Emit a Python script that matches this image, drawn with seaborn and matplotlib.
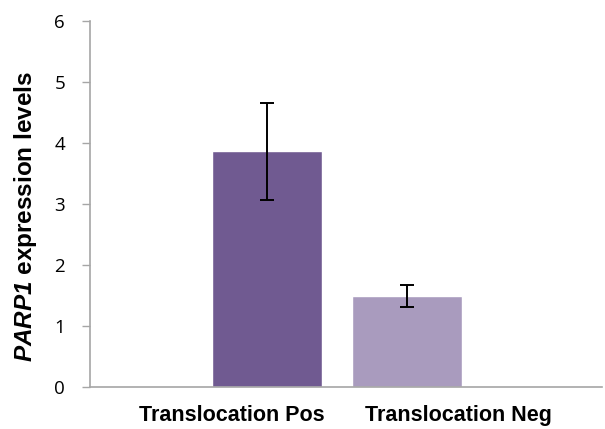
import matplotlib
matplotlib.use("Agg")
import matplotlib.pyplot as plt
import seaborn as sns
import pandas as pd

# Mean PARP1 expression by translocation status, with error
groups = ["Translocation Pos", "Translocation Neg"]
means = [3.86, 1.49]
errors = [0.79, 0.18]
colors = ["#705a91", "#a99bbe"]
yticks = [0, 1, 2, 3, 4, 5, 6]

sns.set_style("white")
plt.rcParams["font.family"] = ["Liberation Sans", "DejaVu Sans"]
plt.rcParams["text.color"] = "black"
plt.rcParams["axes.labelcolor"] = "black"
plt.rcParams["xtick.color"] = "black"
plt.rcParams["ytick.color"] = "black"
plt.rcParams["mathtext.fontset"] = "custom"
plt.rcParams["mathtext.rm"] = "Liberation Sans:bold"
plt.rcParams["mathtext.bfit"] = "Liberation Sans:bold:italic"

df = pd.DataFrame({"group": groups, "mean": means, "err": errors})

fig = plt.figure(figsize=(6.05, 4.29), dpi=100)
ax = fig.add_axes([90 / 605, 41.7 / 429, 512 / 605, 366.6 / 429])

sns.barplot(data=df, x="group", y="mean", hue="group", palette=colors,
            order=groups, hue_order=groups, width=0.786, errorbar=None,
            legend=False, saturation=1, ax=ax)
ax.errorbar(x=range(len(groups)), y=df["mean"], yerr=df["err"], fmt="none",
            ecolor="black", elinewidth=1.4, capsize=5, capthick=1.4)

ax.set_ylim(0, 6)
ax.set_xlim(-1.26, 2.39)
ax.set_yticks(yticks)
ax.set_yticklabels([str(t) for t in yticks], fontsize=13.5,
                   family=["Open Sans", "DejaVu Sans"])
ax.tick_params(axis="y", length=6, width=1, color="#a6a6a6", labelcolor="black",
               pad=12, left=True, direction="out")

# Category labels sit beneath the axis, spread wider than the bars
ax.set_xticks([-0.25, 1.37])
ax.set_xticklabels(groups, fontsize=15.5, fontweight="bold")
ax.tick_params(axis="x", length=0, pad=13, labelcolor="black")
ax.set_xlabel("")
ax.set_ylabel(r"$\mathbfit{PARP1}$ expression levels", fontsize=17.5,
              fontweight="bold", color="black")
ax.yaxis.set_label_coords(-0.10, 0.465)

sns.despine(ax=ax, top=True, right=True)
for side in ("left", "bottom"):
    ax.spines[side].set_color("#a6a6a6")
    ax.spines[side].set_linewidth(1.2)

fig.savefig("out.png", dpi=100)
